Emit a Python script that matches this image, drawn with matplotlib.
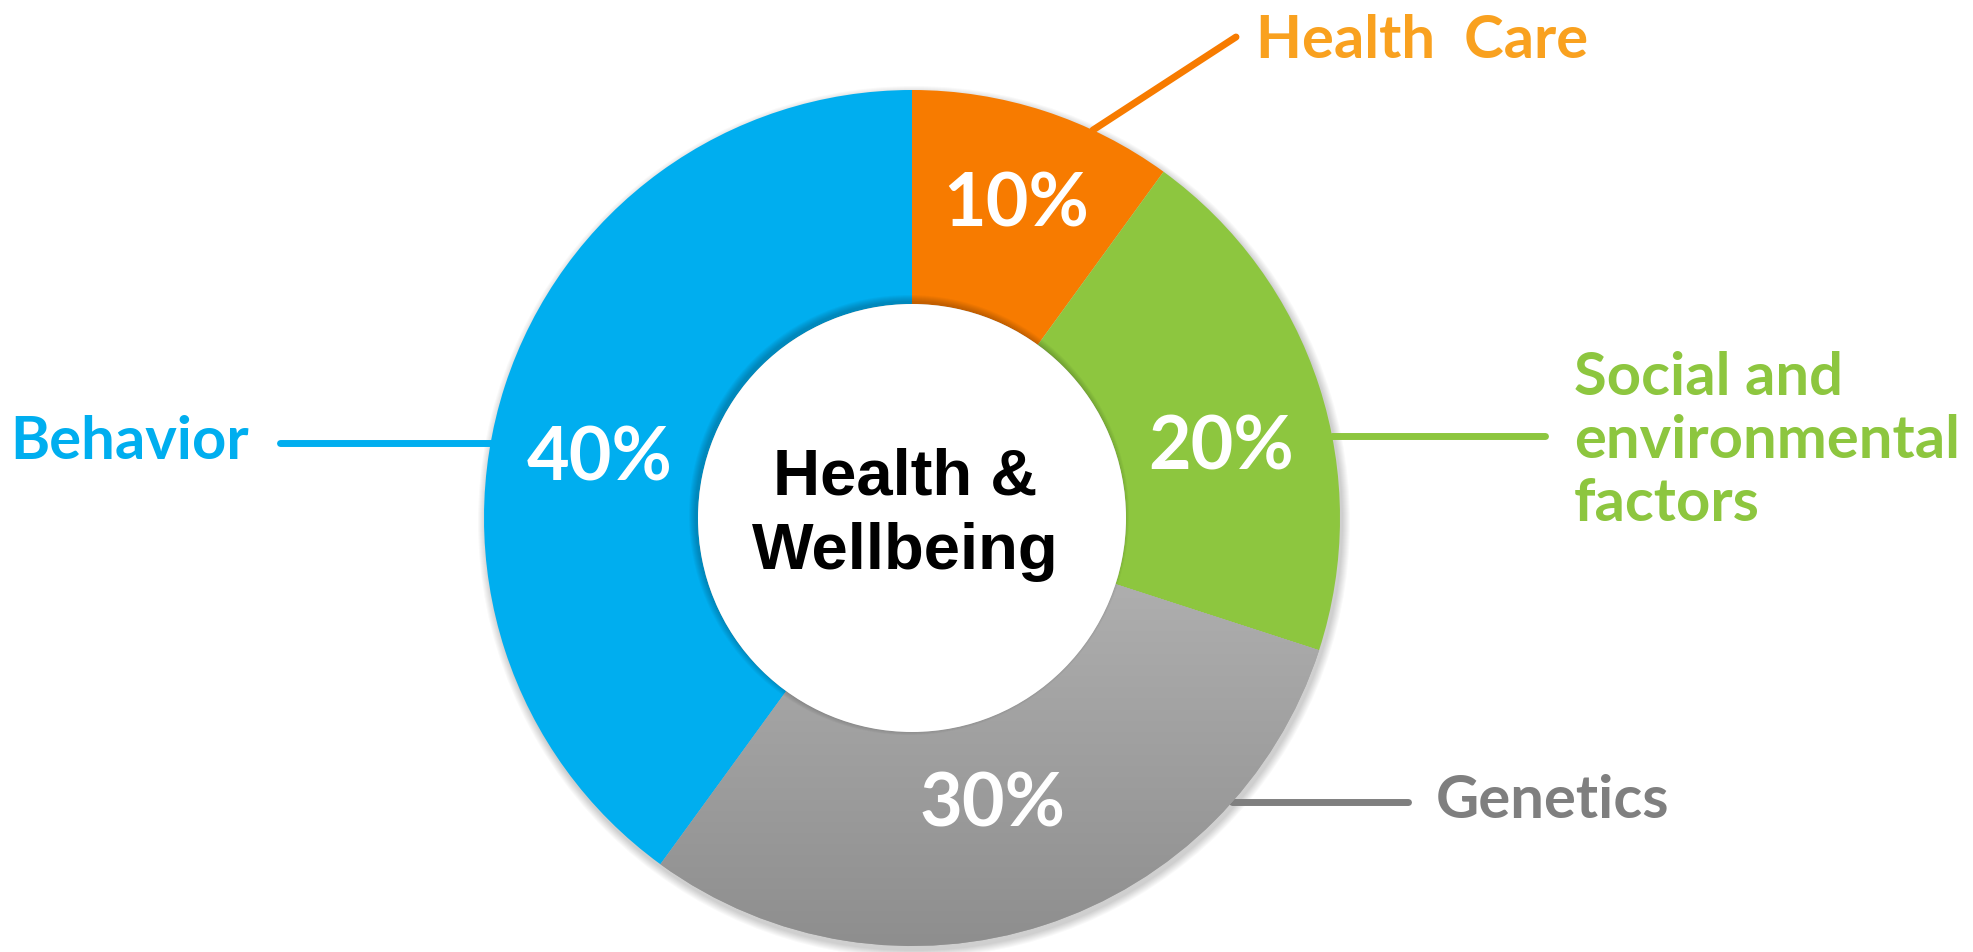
import matplotlib.pyplot as plt
import numpy as np
from matplotlib.patches import Circle

# data
categories = ["Health  Care", "Social and\nenvironmental\nfactors", "Genetics", "Behavior"]
shares = [10, 20, 30, 40]
center_label = "Health &\nWellbeing"

# colours
wedge_colors = ['#f77b00', '#8dc63f', '#a6a6a6', '#00aeef']
text_colors = ['#f9a11f', '#8dc63f', '#7f7f7f', '#00aeef']
line_colors = ['#f77b00', '#8dc63f', '#7f7f7f', '#00aeef']

W, H = 1973, 953
cx, cy = 912, H - 519
R = 428
label_size = 43

fig = plt.figure(figsize=(W / 100, H / 100), dpi=100)
ax = fig.add_axes([0, 0, 1, 1])

# soft shadow behind the ring
for k in range(8):
    ax.add_patch(Circle((cx + 2, cy - 4), R + 1 + k, color='black', alpha=0.025, lw=0, zorder=0))

wedges, _ = ax.pie(shares, colors=wedge_colors, startangle=90, counterclock=False,
                   radius=R, center=(cx, cy),
                   wedgeprops=dict(width=R / 2, linewidth=0))
for w in wedges:
    w.set_zorder(1)

# grey wedge gets a vertical gradient
grad = np.linspace(0, 1, 256).reshape(-1, 1)
img = ax.imshow(grad, cmap=plt.matplotlib.colors.LinearSegmentedColormap.from_list(
    'g', ['#8e8e8e', '#b6b6b6']), origin='lower', aspect='auto',
    extent=(cx - R, cx + R, cy - R, cy + 0.05 * R), zorder=2)
img.set_clip_path(wedges[2])

# inner shadow of the hole
for k in range(7):
    ax.add_patch(Circle((cx - 3, cy + 3), R / 2 + 6 - k, color='black', alpha=0.03, lw=0, zorder=3))
ax.add_patch(Circle((cx, cy), R / 2, color='white', lw=0, zorder=4))

# percent labels
pct_r = [0.785, 0.745, 0.68, 0.745]
pct_shift = [0, -4, -2, 6]
start = 90
for i, s in enumerate(shares):
    mid = start - 3.6 * s / 2 + pct_shift[i]
    start -= 3.6 * s
    x = cx + pct_r[i] * R * np.cos(np.radians(mid))
    y = cy + pct_r[i] * R * np.sin(np.radians(mid)) - 6
    ax.text(x, y, f"{s}%", color='white', fontsize=53, fontweight='bold',
            family='Lato', ha='center', va='center', zorder=6)

ax.text(cx - 7, cy + 4, center_label, fontsize=47, fontweight='bold',
        family='Liberation Sans', ha='center', va='center', linespacing=1.3, zorder=6)

# leader lines and labels
lw = 5
# Health Care: slanted line
a = np.radians(65)
ax.plot([cx + R * np.cos(a), 1236], [cy + R * np.sin(a), H - 38], color=line_colors[0],
        lw=lw, solid_capstyle='round', zorder=0.5)
ax.text(1256, H - 58, categories[0], color=text_colors[0], fontsize=label_size, fontweight='bold',
        family='Lato', ha='left', va='baseline')

# Social
ly = H - 437
ax.plot([cx + np.sqrt(R**2 - (ly - cy)**2), 1545], [ly, ly], color=line_colors[1],
        lw=lw, solid_capstyle='round', zorder=0.5)
ax.text(1574, ly - 4, categories[1], color=text_colors[1], fontsize=label_size, fontweight='bold',
        family='Lato', ha='left', va='center', linespacing=1.2)

# Genetics
ly = H - 803
ax.plot([cx + np.sqrt(R**2 - (ly - cy)**2), 1408], [ly, ly], color=line_colors[2],
        lw=lw, solid_capstyle='round', zorder=0.5)
ax.text(1436, H - 818, categories[2], color=text_colors[2], fontsize=label_size, fontweight='bold',
        family='Lato', ha='left', va='baseline')

# Behavior
ly = H - 444
ax.plot([280, cx - np.sqrt(R**2 - (ly - cy)**2)], [ly, ly], color=line_colors[3],
        lw=lw, solid_capstyle='round', zorder=0.5)
ax.text(10, H - 459, categories[3], color=text_colors[3], fontsize=label_size, fontweight='bold',
        family='Lato', ha='left', va='baseline')

ax.set_xlim(0, W)
ax.set_ylim(0, H)
ax.set_aspect('auto')
ax.axis('off')

fig.savefig('out.png', dpi=100, facecolor='white')
